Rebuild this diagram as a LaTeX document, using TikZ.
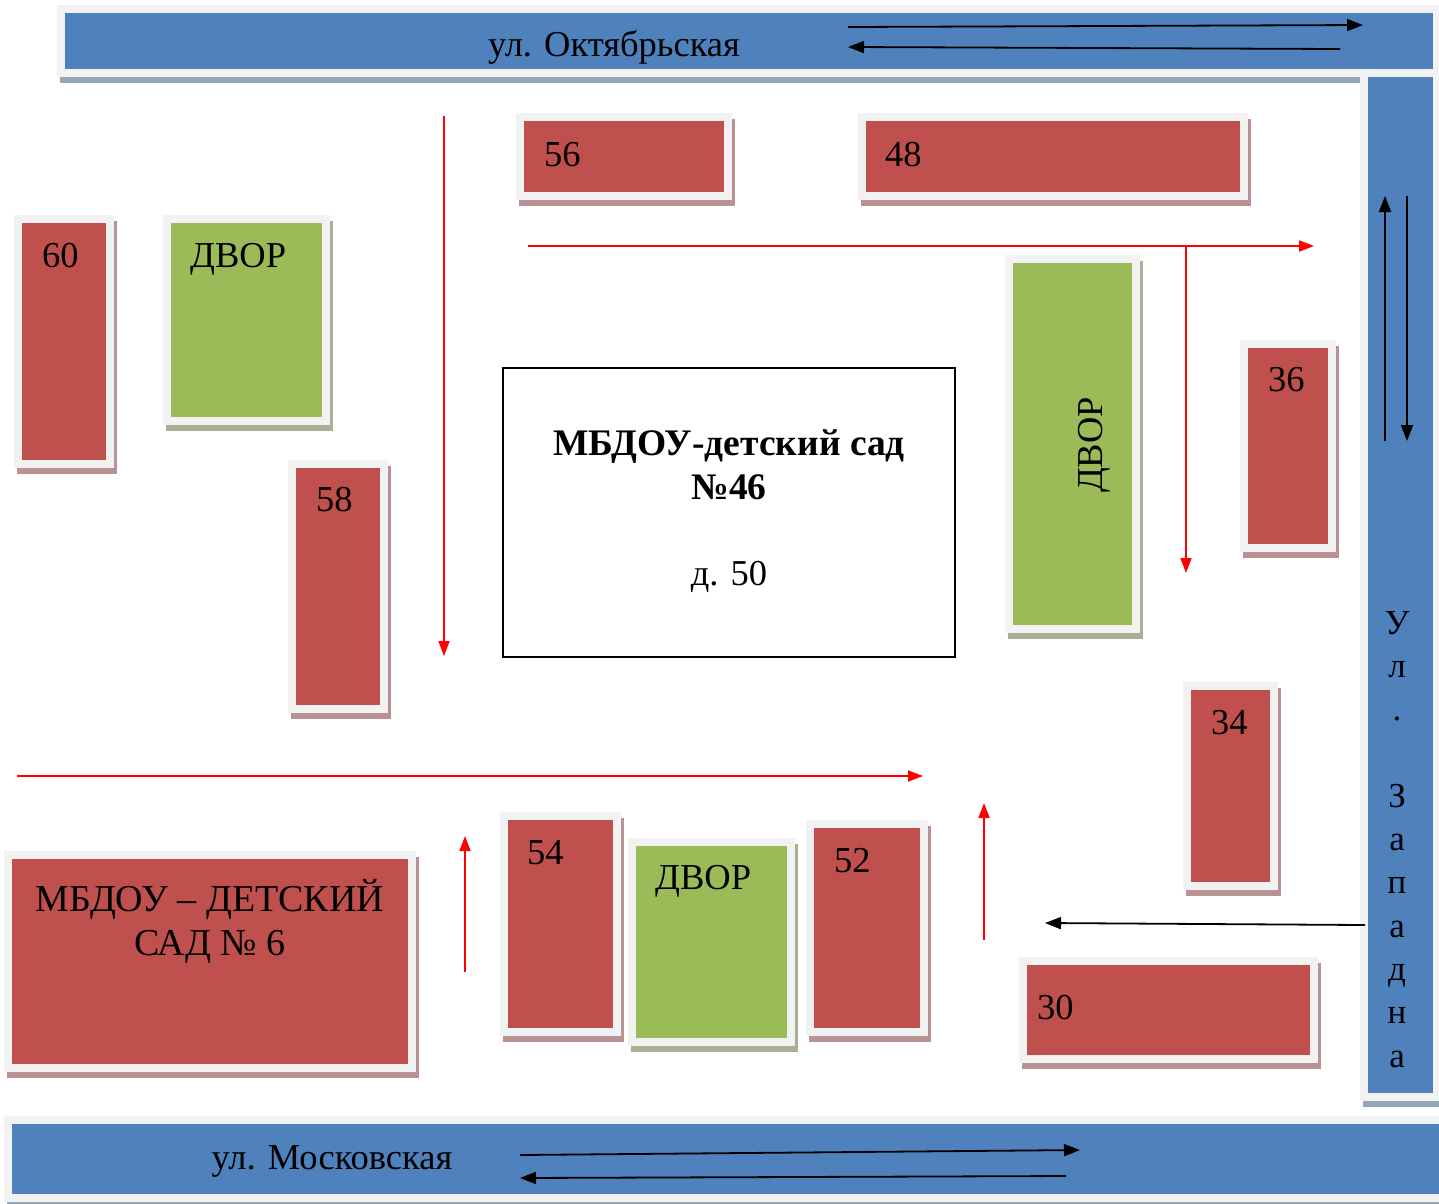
\documentclass[tikz,border=0pt]{standalone}
\usepackage{fontspec}
\setmainfont{Liberation Serif}
\usetikzlibrary{arrows.meta}
\definecolor{bred}{HTML}{C0504D}
\definecolor{bgreen}{HTML}{9BBB59}
\definecolor{bblue}{HTML}{4F81BD}
\definecolor{framegray}{HTML}{F2F2F2}
\definecolor{sred}{HTML}{B99393}
\definecolor{sgreen}{HTML}{AAB096}
\definecolor{sblue}{HTML}{95A5BA}
\tikzset{
 bx/.style={draw=framegray, line width=8pt, inner sep=0pt, outer sep=0pt, rectangle},
 lbl/.style={anchor=base west, inner sep=0pt, font=\fontsize{36.5}{40}\selectfont},
 clbl/.style={anchor=base, inner sep=0pt, font=\fontsize{36.5}{40}\selectfont},
 blk/.style={draw=black, line width=1.8pt, -{Triangle[length=16pt,width=12pt]}},
 rd/.style={draw=red, line width=1.8pt, -{Triangle[length=15pt,width=11pt]}, red},
}
\newcommand\bld[7]{%
 \fill[#7] ({#2+3},{#3+6}) rectangle ({#4+3},{#5+6});
 \node[bx, fill=#6, minimum width={(#4-#2-8)*1pt}, minimum height={(#5-#3-8)*1pt}] (#1) at ({(#2+#4)/2},{(#3+#5)/2}) {};
}
\begin{document}
\begin{tikzpicture}[x=1pt,y=-1pt]
\useasboundingbox (0,0) rectangle (1439,1203);
% streets
\bld{ts}{57}{5}{1441}{77}{bblue}{sblue}
\bld{rs}{1360}{69}{1441}{1101}{bblue}{sblue}
\bld{bs}{4}{1116}{1447}{1202}{bblue}{sblue}
% buildings
\bld{b60}{14}{215}{114}{468}{bred}{sred}
\bld{d1}{163}{215}{330}{425}{bgreen}{sgreen}
\bld{b58}{288}{460}{388}{713}{bred}{sred}
\bld{b56}{516}{113}{732}{200}{bred}{sred}
\bld{b48}{858}{113}{1248}{200}{bred}{sred}
\bld{d2}{1005}{255}{1140}{633}{bgreen}{sgreen}
\bld{b36}{1240}{340}{1336}{552}{bred}{sred}
\bld{b34}{1183}{682}{1278}{890}{bred}{sred}
\bld{b54}{500}{812}{621}{1036}{bred}{sred}
\bld{d3}{628}{838}{795}{1046}{bgreen}{sgreen}
\bld{b52}{806}{820}{928}{1036}{bred}{sred}
\bld{b30}{1019}{957}{1318}{1063}{bred}{sred}
\bld{b6}{4}{851}{416}{1072}{bred}{sred}
% school
\node[draw=black, line width=1.3pt, fill=white, minimum width=452pt, minimum height=289pt, inner sep=0pt] (school) at (729,512.5) {};
% labels
\node[clbl] (tsl) at (614,56) {ул. Октябрьская};
\node[clbl] (bsl) at (332,1169) {ул. Московская};
\node[anchor=north, inner sep=0pt, align=center, font=\fontsize{35}{43.3}\selectfont] (rsl) at (1397,611) {У\\л\\.\\\mbox{}\\З\\а\\п\\а\\д\\н\\а};
\node[lbl] (l60) at (42,267) {60};
\node[lbl] (ld1) at (190,267) {ДВОР};
\node[lbl] (l58) at (316,511) {58};
\node[lbl] (l56) at (544,166) {56};
\node[lbl] (l48) at (885,166) {48};
\node[lbl] (l36) at (1268,391) {36};
\node[lbl] (l34) at (1211,734) {34};
\node[lbl] (l54) at (527,864) {54};
\node[lbl] (ld3) at (655,889) {ДВОР};
\node[lbl] (l52) at (834,872) {52};
\node[lbl] (l30) at (1037,1019) {30};
\node[clbl, rotate=90] (ld2) at (1102,445) {ДВОР};
\node[clbl, font=\fontsize{38}{40}\selectfont] (l6a) at (210,911) {МБДОУ – ДЕТСКИЙ};
\node[clbl, font=\fontsize{38}{40}\selectfont] (l6b) at (210,955) {САД № 6};
\node[clbl, font=\fontsize{37.5}{40}\selectfont\bfseries] (s1) at (729,455) {МБДОУ-детский сад};
\node[clbl, font=\fontsize{37.5}{40}\selectfont\bfseries] (s2) at (729,499) {№46};
\node[clbl, font=\fontsize{36.5}{40}\selectfont] (s3) at (729,585) {д. 50};
% black arrows
\coordinate (t1s) at (848,27); \coordinate (t1e) at (1363,25);
\coordinate (t2s) at (1340,49); \coordinate (t2e) at (848,47);
\coordinate (r1s) at (1385,441); \coordinate (r1e) at (1385,196);
\coordinate (r2s) at (1407,196); \coordinate (r2e) at (1407,441);
\coordinate (m1s) at (520,1155); \coordinate (m1e) at (1080,1150);
\coordinate (m2s) at (1066,1176); \coordinate (m2e) at (520,1178);
\coordinate (w1s) at (1365,925); \coordinate (w1e) at (1045,923);
\draw[blk] (t1s) -- (t1e);
\draw[blk] (t2s) -- (t2e);
\draw[blk] (r1s) -- (r1e);
\draw[blk] (r2s) -- (r2e);
\draw[blk] (m1s) -- (m1e);
\draw[blk] (m2s) -- (m2e);
\draw[blk] (w1s) -- (w1e);
% red arrows
\coordinate (a1s) at (444,116); \coordinate (a1e) at (444,656);
\coordinate (a2s) at (528,246); \coordinate (a2e) at (1314,246);
\coordinate (a3s) at (1186,246); \coordinate (a3e) at (1186,573);
\coordinate (a4s) at (17,776); \coordinate (a4e) at (923,776);
\coordinate (a5s) at (465,972); \coordinate (a5e) at (465,836);
\coordinate (a6s) at (984,940); \coordinate (a6e) at (984,803);
\draw[rd] (a1s) -- (a1e);
\draw[rd] (a2s) -- (a2e);
\draw[rd] (a3s) -- (a3e);
\draw[rd] (a4s) -- (a4e);
\draw[rd] (a5s) -- (a5e);
\draw[rd] (a6s) -- (a6e);
\end{tikzpicture}
\end{document}
